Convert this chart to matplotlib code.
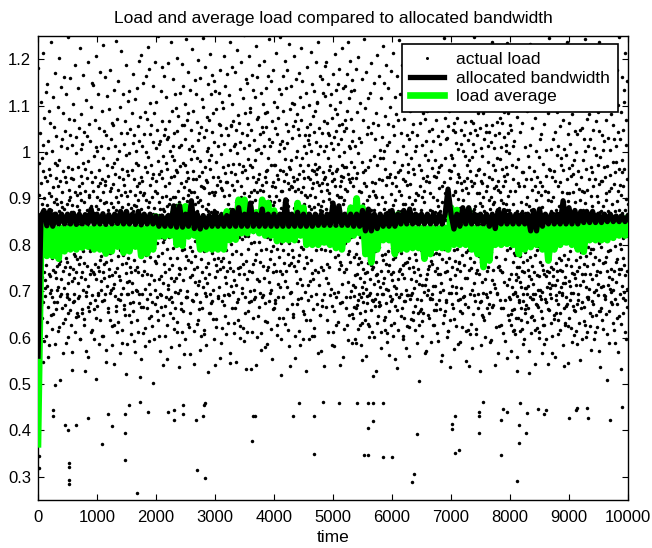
import numpy as np
import matplotlib
matplotlib.use("Agg")
import matplotlib.pyplot as plt
from matplotlib.lines import Line2D

plt.rcParams['font.family'] = ['Liberation Sans', 'DejaVu Sans']

# ---------------- data ----------------
# actual load, 3000 readings evenly spread over t = 0 ... 10000, in thousandths
load_span = 10000
load_milli = [
763, 1182, 845, 692, 907, 531, 824, 976, 718, 1041, 866, 623, 795, 934, 1107, 681, 852, 749, 988, 817,
642, 889, 731, 1016, 958, 804, 1214, 677, 866, 742, 593, 901, 838, 1073, 706, 783, 947, 862, 724, 1129,
997, 871, 604, 756, 829, 1146, 712, 938, 885, 667, 1024, 791, 846, 559, 963, 738, 1088, 809, 912, 697,
818, 733, 951, 1063, 648, 874, 792, 1237, 906, 771, 687, 843, 1002, 619, 925, 857, 746, 1118, 783, 868,
1054, 676, 892, 816, 742, 977, 587, 861, 1171, 728, 899, 806, 661, 943, 1035, 754, 827, 702, 889, 971,
709, 926, 1098, 834, 615, 758, 982, 873, 804, 1203, 689, 937, 765, 851, 508, 1012, 893, 727, 838, 1141,
881, 797, 663, 1027, 913, 744, 856, 1084, 632, 959, 818, 706, 1162, 877, 793, 946, 671, 1046, 824, 752,
1126, 854, 771, 936, 588, 829, 1009, 695, 887, 762, 1248, 843, 718, 967, 809, 654, 897, 1071, 736, 918,
684, 1037, 902, 812, 753, 1159, 867, 628, 943, 798, 871, 1016, 722, 569, 886, 964, 1103, 747, 831, 677,
942, 781, 858, 694, 1068, 729, 913, 846, 1187, 611, 776, 998, 863, 742, 1032, 818, 653, 907, 884, 769,
836, 718, 1139, 967, 803, 646, 874, 927, 758, 1052, 689, 843, 911, 1224, 774, 596, 862, 1006, 731, 948,
1081, 897, 662, 813, 742, 934, 1018, 786, 859, 703, 976, 1167, 828, 641, 893, 761, 1044, 917, 527, 852,
727, 963, 848, 1112, 689, 807, 572, 943, 876, 1034, 754, 826, 1193, 712, 981, 839, 667, 908, 793, 1061,
902, 658, 1024, 787, 873, 1256, 738, 819, 957, 611, 884, 746, 1097, 863, 799, 692, 936, 1148, 812, 741,
794, 1145, 916, 736, 598, 869, 992, 823, 1069, 681, 758, 947, 837, 1011, 726, 883, 643, 1207, 904, 856,
669, 841, 1003, 878, 1126, 752, 927, 696, 813, 961, 587, 1052, 744, 897, 829, 1173, 768, 934, 702, 819,
1013, 776, 723, 941, 852, 679, 1088, 803, 914, 1231, 741, 866, 604, 987, 817, 728, 1046, 891, 758, 937,
857, 929, 1161, 694, 807, 1037, 762, 548, 893, 838, 971, 712, 1121, 826, 663, 948, 789, 874, 1009, 732,
748, 1092, 864, 812, 639, 917, 783, 1176, 856, 703, 1028, 891, 767, 923, 584, 846, 1063, 734, 968, 881,
931, 707, 809, 1058, 977, 863, 715, 628, 1134, 798, 842, 689, 953, 1014, 741, 1239, 876, 817, 657, 902,
612, 984, 1071, 827, 749, 893, 1153, 776, 918, 684, 865, 1002, 733, 811, 947, 566, 1096, 859, 788, 724,
1042, 846, 693, 907, 1218, 758, 831, 964, 617, 882, 779, 1124, 941, 706, 853, 1017, 671, 796, 928, 837,
808, 1066, 914, 648, 872, 739, 994, 1187, 823, 761, 906, 587, 1041, 846, 719, 958, 887, 1109, 694, 772,
951, 722, 788, 1131, 863, 997, 674, 839, 752, 1049, 915, 806, 633, 1262, 879, 741, 824, 961, 1083, 698,
717, 873, 1019, 804, 1168, 657, 942, 886, 768, 593, 1037, 829, 908, 745, 1114, 862, 976, 702, 849, 1003,
884, 1138, 753, 926, 841, 701, 1057, 612, 897, 971, 819, 742, 1196, 868, 933, 674, 1024, 787, 516, 913,
1076, 799, 947, 667, 834, 1209, 878, 735, 1012, 862, 693, 938, 781, 1149, 824, 609, 907, 853, 1038, 766,
743, 912, 835, 1087, 705, 968, 581, 1163, 844, 779, 1001, 897, 663, 826, 956, 1072, 738, 881, 1227, 812,
989, 827, 1178, 716, 893, 642, 856, 1039, 773, 928, 849, 1106, 694, 971, 807, 735, 1059, 862, 626, 944,
824, 676, 903, 1021, 789, 867, 1142, 953, 724, 817, 598, 1084, 879, 766, 1193, 841, 917, 703, 1008, 856,
1108, 938, 761, 844, 1047, 687, 912, 803, 1251, 776, 859, 981, 638, 1017, 893, 727, 864, 952, 571, 829,
695, 1024, 877, 958, 732, 1131, 816, 667, 943, 1067, 783, 904, 841, 1184, 718, 992, 806, 649, 877, 1036,
873, 758, 1163, 812, 603, 926, 1049, 859, 741, 977, 1119, 688, 837, 906, 792, 1027, 554, 883, 963, 714,
1032, 867, 704, 1191, 889, 748, 934, 817, 1066, 652, 898, 772, 1003, 861, 1236, 729, 946, 834, 687, 1088,
756, 991, 843, 677, 1013, 902, 1157, 793, 869, 618, 948, 1041, 721, 857, 983, 809, 1124, 663, 902, 827,
962, 1094, 728, 886, 813, 1046, 634, 957, 1203, 771, 842, 915, 697, 1078, 866, 751, 583, 1011, 892, 738,
829, 703, 969, 1127, 747, 878, 1016, 826, 662, 934, 1189, 853, 789, 1058, 611, 901, 977, 724, 843, 1142,
1059, 882, 791, 924, 564, 1104, 836, 749, 973, 1027, 688, 862, 1243, 819, 938, 776, 1068, 701, 894, 956,
687, 944, 1083, 768, 907, 1172, 854, 623, 1006, 839, 918, 731, 1134, 796, 874, 653, 985, 1047, 827, 762,
913, 1012, 734, 861, 1221, 786, 942, 679, 826, 1089, 958, 543, 871, 747, 1003, 914, 1156, 808, 719, 887,
776, 858, 1126, 693, 941, 818, 1064, 904, 752, 629, 987, 873, 1198, 836, 714, 1026, 893, 661, 948, 802,
1041, 723, 897, 981, 836, 1159, 677, 812, 927, 1053, 769, 604, 883, 956, 1114, 741, 849, 1246, 708, 924,
862, 1097, 786, 607, 923, 845, 1032, 729, 968, 1183, 814, 696, 1048, 877, 752, 939, 583, 1076, 859, 1002,
718, 936, 1008, 873, 1147, 761, 888, 654, 912, 826, 1069, 982, 737, 1211, 846, 693, 963, 804, 1126, 871,
993, 817, 674, 1043, 782, 914, 1167, 858, 703, 946, 1084, 823, 641, 907, 1022, 769, 876, 1153, 731, 541,
845, 1132, 913, 756, 864, 622, 978, 1093, 807, 743, 929, 1257, 871, 689, 1014, 836, 772, 947, 1061, 798,
1127, 709, 851, 937, 1058, 804, 747, 1176, 923, 588, 869, 996, 766, 1037, 842, 918, 679, 1108, 827, 753,
772, 968, 1094, 823, 692, 1207, 906, 839, 1018, 731, 862, 647, 1143, 954, 789, 873, 1051, 718, 936, 812,
936, 821, 744, 1169, 887, 973, 631, 1036, 858, 764, 1122, 907, 833, 692, 1004, 1238, 751, 878, 567, 1059,
801, 1057, 957, 712, 834, 1103, 781, 929, 1184, 857, 698, 974, 816, 1066, 743, 609, 918, 863, 1012, 724,
1018, 876, 663, 952, 1172, 827, 714, 893, 1047, 786, 938, 1219, 852, 676, 997, 823, 1079, 751, 884, 639,
738, 1063, 887, 816, 975, 599, 1136, 864, 752, 1021, 903, 781, 1194, 838, 927, 706, 868, 1042, 812, 957,
969, 843, 1117, 758, 621, 911, 1008, 873, 1253, 737, 846, 962, 688, 1083, 819, 894, 766, 1157, 532, 882,
854, 726, 1036, 943, 867, 1149, 792, 657, 984, 1061, 818, 743, 906, 1206, 861, 1016, 701, 839, 972, 1094,
1086, 914, 803, 679, 1048, 856, 1167, 742, 893, 968, 613, 827, 1134, 872, 759, 947, 1025, 806, 684, 918,
703, 857, 983, 1119, 768, 897, 541, 1004, 864, 1229, 781, 936, 852, 1071, 726, 914, 1162, 646, 843, 1007,
941, 1076, 722, 864, 1188, 807, 952, 697, 833, 1039, 918, 762, 609, 997, 1128, 853, 789, 929, 1053, 874,
827, 688, 1043, 917, 754, 1103, 863, 1197, 728, 891, 1012, 839, 946, 674, 862, 1083, 579, 958, 791, 1138,
1054, 936, 817, 746, 962, 633, 1087, 894, 823, 1164, 752, 988, 871, 719, 1243, 906, 843, 1029, 697, 812,
769, 1013, 894, 1152, 702, 848, 971, 786, 1067, 927, 554, 863, 1021, 798, 936, 1176, 741, 886, 664, 973,
892, 758, 1107, 836, 973, 681, 924, 1051, 813, 743, 1214, 867, 906, 628, 1038, 792, 951, 1096, 847, 716,
1073, 941, 687, 1002, 858, 1136, 774, 897, 961, 1247, 708, 832, 1017, 743, 879, 596, 1124, 916, 804, 853,
736, 869, 1024, 917, 1163, 789, 642, 958, 1088, 826, 893, 1009, 761, 938, 1197, 851, 722, 984, 867, 1061,
953, 1138, 812, 743, 897, 1019, 866, 708, 1176, 934, 781, 617, 1046, 883, 968, 803, 1232, 757, 921, 539,
818, 697, 963, 1093, 761, 927, 1142, 853, 983, 672, 1031, 841, 924, 1106, 788, 862, 651, 1057, 946, 774,
1104, 879, 754, 938, 1206, 834, 917, 1067, 603, 862, 989, 743, 1158, 891, 826, 1003, 718, 941, 1081, 857,
766, 1049, 921, 808, 683, 1171, 887, 952, 779, 1036, 864, 1118, 727, 583, 972, 847, 1069, 913, 796, 1224,
987, 842, 1153, 713, 876, 958, 792, 1098, 924, 657, 1013, 866, 943, 1259, 751, 889, 1037, 822, 698, 908,
849, 1127, 774, 997, 823, 638, 1054, 904, 1183, 836, 761, 971, 1026, 868, 713, 947, 1102, 596, 883, 1018,
1036, 723, 908, 1061, 941, 852, 1216, 768, 877, 1003, 689, 923, 817, 1147, 962, 739, 856, 1077, 934, 662,
727, 958, 1043, 881, 1132, 604, 837, 974, 1089, 812, 903, 746, 1194, 867, 952, 1021, 788, 673, 936, 1106,
964, 1108, 856, 742, 996, 889, 1237, 713, 928, 1052, 834, 967, 648, 1013, 876, 1163, 803, 917, 752, 571,
883, 791, 1157, 934, 668, 1041, 872, 813, 957, 1128, 746, 894, 1067, 827, 942, 694, 1003, 1186, 863, 789,
1121, 946, 728, 1012, 877, 1194, 803, 932, 637, 1063, 918, 851, 759, 1147, 986, 824, 1042, 717, 898, 961,
753, 1036, 912, 863, 1101, 786, 969, 1254, 842, 704, 1019, 893, 1126, 668, 937, 803, 1074, 954, 829, 612,
1007, 874, 1169, 697, 941, 1033, 816, 582, 1092, 927, 864, 1211, 774, 958, 1046, 839, 688, 1133, 907, 853,
812, 1082, 963, 778, 1146, 857, 634, 1017, 902, 1179, 831, 747, 991, 1058, 869, 926, 762, 1108, 674, 948,
938, 756, 1027, 904, 836, 1224, 973, 716, 1061, 887, 559, 946, 1137, 813, 1001, 742, 897, 1046, 968, 827,
1068, 921, 803, 1143, 687, 967, 1052, 858, 747, 1168, 916, 834, 628, 1088, 953, 781, 1236, 872, 719, 1014,
786, 1117, 942, 649, 1009, 883, 1197, 764, 936, 1071, 816, 979, 1132, 701, 857, 1024, 943, 588, 1156, 868,
713, 868, 1046, 642, 927, 774, 1133, 689, 851, 968, 735, 597, 1012, 826, 709, 943, 1178, 781, 663, 892,
954, 671, 803, 1087, 736, 882, 618, 997, 759, 1204, 843, 694, 916, 771, 1031, 652, 869, 728, 1106, 817,
687, 1021, 764, 913, 583, 846, 1158, 709, 978, 632, 887, 1069, 748, 823, 957, 676, 1243, 798, 719, 934,
876, 739, 962, 658, 1094, 817, 704, 926, 1172, 783, 561, 897, 1038, 742, 853, 689, 968, 1116, 761, 629,
1053, 692, 837, 768, 906, 624, 1127, 851, 726, 983, 697, 1041, 818, 757, 1192, 874, 613, 936, 792, 681,
748, 917, 679, 1063, 823, 753, 991, 601, 874, 1148, 716, 862, 934, 668, 1027, 787, 907, 734, 529, 1084,
902, 763, 1208, 694, 847, 973, 738, 816, 647, 1059, 889, 721, 1163, 796, 941, 676, 854, 1004, 708, 837,
671, 986, 827, 744, 1117, 859, 612, 939, 778, 1032, 693, 904, 767, 1229, 846, 718, 988, 638, 877, 1149,
1002, 728, 893, 617, 963, 781, 1078, 704, 852, 929, 1187, 759, 674, 1016, 833, 591, 946, 871, 743, 1061,
786, 1139, 702, 874, 757, 1021, 658, 946, 823, 689, 1098, 812, 953, 736, 867, 1174, 627, 909, 793, 724,
934, 683, 817, 1056, 741, 886, 1213, 769, 632, 978, 854, 712, 1037, 896, 774, 947, 553, 1118, 807, 693,
707, 1081, 926, 786, 659, 1003, 842, 1163, 727, 873, 616, 956, 794, 1069, 688, 841, 917, 743, 1241, 862,
1126, 818, 748, 961, 873, 694, 1042, 782, 907, 1187, 663, 829, 971, 738, 604, 1013, 887, 756, 942, 679,
862, 729, 1072, 643, 938, 816, 761, 1151, 889, 703, 996, 837, 578, 1104, 764, 928, 692, 1036, 813, 974,
691, 957, 843, 1196, 771, 622, 903, 1027, 749, 861, 1089, 683, 932, 812, 1167, 727, 866, 988, 641, 804,
1043, 804, 696, 887, 1128, 753, 964, 637, 1061, 829, 742, 1218, 878, 707, 953, 819, 1002, 668, 896, 781,
768, 1014, 912, 721, 846, 589, 1174, 866, 794, 1037, 653, 907, 823, 748, 1092, 971, 716, 853, 1146, 628,
927, 657, 1063, 808, 734, 961, 1203, 682, 874, 788, 1016, 902, 714, 1257, 836, 603, 943, 779, 1084, 857,
653, 892, 776, 1138, 917, 846, 714, 993, 567, 1071, 803, 937, 1182, 726, 862, 1024, 691, 808, 948, 737,
1089, 748, 863, 702, 983, 1157, 821, 754, 936, 643, 1046, 874, 797, 911, 1213, 684, 832, 1003, 766, 591,
823, 966, 694, 1049, 758, 873, 627, 1186, 904, 781, 1023, 712, 863, 948, 659, 1107, 837, 744, 982, 871,
712, 1132, 847, 783, 946, 1068, 673, 896, 751, 1229, 818, 609, 957, 1034, 736, 884, 1163, 797, 682, 923,
968, 781, 1017, 662, 873, 736, 1098, 842, 973, 718, 549, 1153, 806, 927, 1046, 769, 893, 631, 1192, 854,
844, 703, 936, 1113, 791, 1246, 862, 657, 988, 817, 1074, 741, 912, 676, 1027, 853, 764, 1138, 918, 602,
1031, 872, 743, 921, 614, 1056, 789, 1171, 834, 697, 962, 1089, 771, 883, 638, 944, 1208, 726, 857, 993,
697, 958, 1168, 827, 881, 712, 986, 753, 1047, 908, 829, 663, 1123, 788, 971, 843, 576, 1062, 734, 916,
914, 1043, 766, 624, 1019, 857, 1183, 709, 936, 1074, 792, 868, 1221, 747, 681, 898, 1006, 829, 953, 761,
763, 827, 1091, 947, 683, 1162, 743, 879, 591, 1018, 934, 812, 1048, 706, 863, 1137, 778, 918, 652, 1002,
1112, 688, 896, 803, 1037, 756, 938, 1209, 817, 673, 992, 861, 728, 1064, 923, 614, 847, 1176, 784, 943,
851, 973, 728, 1153, 864, 617, 1026, 789, 912, 1092, 746, 869, 983, 538, 1131, 817, 693, 958, 1041, 772,
629, 1067, 937, 812, 751, 989, 1196, 846, 703, 927, 1063, 788, 873, 651, 1018, 934, 1248, 762, 878, 717,
1047, 796, 678, 1002, 883, 1114, 739, 951, 824, 607, 1177, 867, 746, 1036, 912, 803, 694, 1083, 857, 961,
776, 912, 1139, 738, 964, 843, 1052, 676, 891, 1219, 764, 583, 938, 1008, 827, 1146, 719, 884, 992, 648,
934, 1083, 821, 697, 1164, 904, 776, 1028, 638, 872, 953, 1097, 727, 861, 1206, 784, 917, 1043, 693, 829,
1059, 743, 867, 1212, 926, 664, 1013, 831, 978, 752, 1124, 897, 815, 672, 1043, 946, 591, 1167, 804, 878,
698, 1021, 903, 784, 1097, 861, 1238, 724, 942, 813, 667, 1058, 889, 971, 746, 1121, 839, 716, 1009, 923,
893, 816, 1174, 962, 707, 1036, 849, 623, 1101, 774, 927, 858, 1183, 693, 986, 833, 1064, 752, 918, 566,
1118, 937, 754, 879, 1042, 806, 1197, 913, 682, 984, 1073, 746, 861, 1229, 628, 897, 1011, 821, 742, 964,
742, 1063, 891, 1147, 803, 927, 664, 1032, 856, 1176, 719, 948, 1087, 812, 769, 937, 593, 1121, 887, 1002,
967, 828, 1016, 713, 1234, 876, 953, 789, 1083, 648, 906, 1041, 837, 1162, 726, 874, 998, 687, 1059, 812,
683, 794, 917, 628, 1047, 736, 862, 571, 973, 708, 821, 1139, 659, 887, 764, 941, 693, 1012, 782, 616,
853, 662, 1023, 779, 698, 916, 607, 838, 1184, 724, 643, 968, 801, 737, 1076, 689, 872, 753, 527, 934,
731, 984, 642, 867, 752, 1107, 681, 793, 926, 614, 848, 719, 1043, 776, 664, 893, 1219, 708, 826, 957,
618, 873, 744, 1062, 693, 812, 957, 678, 763, 1168, 839, 596, 927, 741, 868, 653, 1011, 784, 706, 889,
942, 707, 826, 671, 903, 634, 1089, 768, 857, 712, 992, 663, 817, 1153, 746, 884, 572, 968, 733, 804,
774, 1016, 688, 853, 1232, 727, 941, 609, 796, 876, 683, 1052, 754, 918, 647, 831, 1096, 716, 862, 695,
867, 639, 958, 741, 813, 1073, 694, 926, 778, 543, 1126, 807, 672, 897, 1003, 734, 859, 621, 947, 788,
702, 913, 798, 1147, 667, 847, 733, 989, 612, 871, 764, 1028, 703, 936, 821, 1194, 684, 792, 908, 657,
1038, 756, 643, 881, 927, 699, 1113, 818, 746, 974, 627, 864, 738, 1061, 792, 586, 917, 826, 683, 1152,
813, 677, 1004, 732, 596, 948, 863, 1179, 709, 837, 743, 913, 661, 1083, 778, 896, 718, 963, 1246, 742,
659, 962, 818, 707, 1092, 784, 873, 631, 1006, 752, 894, 686, 1167, 823, 713, 947, 604, 869, 1028, 747,
902, 733, 1136, 649, 861, 789, 958, 714, 559, 1043, 817, 937, 692, 876, 1208, 761, 653, 993, 838, 724,
744, 1087, 672, 926, 803, 1013, 637, 859, 771, 1162, 698, 883, 1057, 746, 617, 936, 812, 708, 971, 856,
986, 768, 851, 1221, 692, 914, 743, 1069, 826, 584, 962, 717, 838, 1114, 663, 893, 779, 1007, 731, 628,
718, 867, 632, 993, 1148, 756, 837, 688, 942, 804, 1236, 673, 911, 769, 1038, 847, 546, 894, 723, 966,
1063, 643, 912, 786, 711, 1017, 873, 1193, 754, 621, 948, 832, 697, 1082, 861, 739, 973, 806, 668, 914,
826, 952, 697, 1124, 864, 738, 606, 983, 817, 1046, 729, 893, 1173, 658, 841, 768, 1001, 714, 932, 587,
673, 1039, 809, 743, 958, 1217, 681, 867, 798, 1094, 632, 921, 752, 864, 1047, 713, 896, 1158, 774, 848,
947, 784, 1106, 663, 829, 917, 736, 1052, 597, 876, 1189, 806, 721, 983, 842, 667, 1027, 758, 913, 1243,
738, 891, 628, 1003, 776, 1134, 852, 709, 964, 687, 832, 1071, 754, 919, 613, 858, 1176, 796, 684, 1012,
1082, 817, 941, 704, 863, 652, 1029, 783, 1197, 736, 906, 847, 574, 968, 792, 1113, 726, 883, 647, 956,
791, 673, 1048, 927, 759, 866, 1142, 698, 837, 1008, 613, 941, 1226, 774, 859, 703, 993, 826, 1067, 734,
906, 1153, 744, 818, 623, 973, 851, 1086, 716, 893, 767, 1238, 658, 931, 804, 1046, 742, 871, 536, 989,
657, 938, 873, 1117, 796, 709, 1036, 842, 937, 638, 1172, 761, 883, 1004, 712, 824, 968, 691, 1109, 847,
1024, 762, 689, 946, 1203, 837, 774, 912, 651, 1068, 896, 743, 829, 1147, 969, 608, 873, 1031, 786, 714,
843, 1097, 916, 731, 862, 588, 1004, 788, 1163, 857, 704, 951, 819, 676, 1082, 923, 747, 1219, 861, 672,
726, 887, 1058, 814, 979, 703, 1131, 861, 744, 932, 1027, 616, 873, 797, 1193, 684, 957, 838, 1013, 763,
978, 719, 836, 1176, 643, 894, 769, 1043, 917, 826, 568, 1101, 748, 963, 876, 737, 1248, 802, 693, 928,
864, 1029, 747, 908, 1087, 792, 629, 956, 833, 1162, 711, 869, 982, 653, 1047, 814, 927, 771, 1134, 698,
1108, 756, 963, 682, 847, 1213, 876, 734, 1016, 597, 898, 827, 1069, 743, 941, 864, 704, 1152, 819, 887,
]

# further readings in the lower part of the cloud (0.5 ... 0.7), spread over t = 0 ... 10000
lower_milli = [
612, 671, 547, 689, 634, 583, 702, 651, 498, 676, 623, 694, 566, 641, 687, 602, 659, 531, 678, 645,
686, 597, 653, 628, 699, 558, 674, 617, 662, 511, 691, 639, 604, 682, 573, 656, 697, 626, 543, 668,
633, 681, 589, 661, 522, 695, 648, 607, 677, 569, 638, 693, 553, 666, 621, 684, 592, 647, 503, 672,
657, 603, 692, 541, 669, 627, 684, 579, 643, 698, 612, 537, 675, 658, 596, 688, 629, 564, 681, 614,
695, 637, 574, 663, 616, 689, 526, 652, 679, 598, 641, 685, 557, 621, 671, 608, 693, 545, 664, 631,
548, 683, 625, 697, 593, 654, 611, 676, 532, 642, 687, 601, 665, 574, 692, 636, 587, 679, 618, 661,
674, 606, 643, 519, 688, 629, 662, 581, 698, 645, 556, 673, 614, 686, 597, 651, 529, 682, 639, 603,
621, 694, 567, 649, 682, 538, 667, 613, 691, 584, 658, 627, 699, 542, 676, 619, 663, 595, 687, 651,
665, 589, 682, 627, 551, 696, 638, 674, 602, 659, 517, 684, 632, 669, 578, 693, 644, 609, 562, 678,
604, 668, 535, 687, 646, 598, 679, 624, 561, 692, 655, 617, 683, 506, 661, 635, 699, 571, 648, 686,
684, 627, 659, 592, 699, 563, 648, 681, 615, 537, 673, 641, 696, 586, 657, 622, 689, 549, 667, 608,
577, 692, 618, 663, 528, 679, 645, 601, 688, 653, 594, 671, 541, 697, 626, 664, 609, 682, 556, 639,
651, 614, 697, 558, 676, 639, 587, 662, 693, 523, 645, 684, 616, 671, 599, 689, 567, 628, 676, 543,
693, 566, 641, 682, 607, 654, 697, 539, 668, 626, 681, 591, 659, 614, 693, 552, 677, 636, 601, 688,
626, 678, 597, 649, 691, 572, 663, 618, 684, 508, 657, 699, 631, 589, 672, 646, 533, 685, 612, 667,
]

# isolated low-load readings (time, load)
low_load = [
(10, 0.345), (10, 0.318), (254, 0.445), (254, 0.432), (458, 0.412), (510, 0.401), (644, 0.412),
(530, 0.330), (530, 0.321), (530, 0.293), (530, 0.284), (850, 0.427), (1080, 0.371),
(1190, 0.436), (1250, 0.410), (1475, 0.436), (1475, 0.395), (1475, 0.336), (1545, 0.455),
(1680, 0.265), (1730, 0.462), (1870, 0.440), (2210, 0.440), (2305, 0.445), (2305, 0.423),
(2460, 0.455), (2460, 0.436), (2680, 0.423), (2690, 0.315), (2790, 0.432), (2820, 0.455),
(2835, 0.460), (2830, 0.297), (3625, 0.377), (3640, 0.430), (3680, 0.432), (4325, 0.430),
(4430, 0.458), (4680, 0.432), (4680, 0.349), (4835, 0.462), (5100, 0.458), (5410, 0.458),
(5590, 0.460), (5680, 0.460), (5850, 0.460), (5590, 0.406), (5680, 0.421), (5530, 0.347),
(5590, 0.347), (5850, 0.343), (6000, 0.343), (6420, 0.393), (6370, 0.306), (6340, 0.289),
(7020, 0.414), (7020, 0.403), (7070, 0.432), (7070, 0.351), (7140, 0.358), (7475, 0.440),
(7475, 0.430), (7475, 0.395), (7540, 0.462), (7850, 0.423), (7880, 0.447), (7950, 0.440),
(7850, 0.347), (8120, 0.291), (8150, 0.412), (8150, 0.373), (8170, 0.458), (8270, 0.395),
(8290, 0.438), (8475, 0.447), (8575, 0.436), (8610, 0.445), (9000, 0.427), (9120, 0.445),
(9140, 0.449), (9300, 0.449), (9320, 0.427), (9690, 0.423), (9900, 0.451),
]

# allocated bandwidth and load average, one value every 50 time units (t = 0 ... 10000)
line_step = 50
allocated_bw = [
0.560, 0.860, 0.874, 0.841, 0.874, 0.840, 0.866, 0.845, 0.866, 0.845,
0.866, 0.845, 0.868, 0.844, 0.866, 0.845, 0.865, 0.846, 0.877, 0.845,
0.866, 0.845, 0.867, 0.844, 0.865, 0.845, 0.866, 0.846, 0.872, 0.845,
0.872, 0.845, 0.866, 0.844, 0.872, 0.843, 0.866, 0.845, 0.866, 0.845,
0.862, 0.840, 0.862, 0.840, 0.862, 0.840, 0.884, 0.838, 0.884, 0.838,
0.866, 0.840, 0.895, 0.835, 0.866, 0.834, 0.863, 0.838, 0.863, 0.840,
0.870, 0.840, 0.863, 0.840, 0.863, 0.840, 0.874, 0.840, 0.880, 0.840,
0.866, 0.840, 0.890, 0.840, 0.866, 0.840, 0.877, 0.840, 0.866, 0.840,
0.866, 0.840, 0.866, 0.840, 0.897, 0.840, 0.866, 0.840, 0.870, 0.840,
0.866, 0.840, 0.866, 0.840, 0.866, 0.842, 0.866, 0.842, 0.866, 0.842,
0.890, 0.842, 0.884, 0.842, 0.866, 0.842, 0.866, 0.840, 0.866, 0.840,
0.874, 0.830, 0.877, 0.830, 0.866, 0.835, 0.866, 0.840, 0.866, 0.840,
0.874, 0.840, 0.866, 0.845, 0.874, 0.845, 0.877, 0.845, 0.866, 0.845,
0.866, 0.845, 0.866, 0.845, 0.866, 0.845, 0.866, 0.845, 0.866, 0.920,
0.866, 0.834, 0.866, 0.840, 0.880, 0.845, 0.880, 0.845, 0.866, 0.845,
0.866, 0.845, 0.866, 0.840, 0.866, 0.835, 0.874, 0.845, 0.874, 0.845,
0.866, 0.845, 0.866, 0.845, 0.866, 0.845, 0.866, 0.830, 0.874, 0.830,
0.877, 0.840, 0.866, 0.845, 0.866, 0.845, 0.866, 0.845, 0.895, 0.845,
0.880, 0.845, 0.874, 0.845, 0.872, 0.848, 0.872, 0.848, 0.872, 0.848,
0.866, 0.848, 0.866, 0.850, 0.866, 0.850, 0.862, 0.850, 0.862, 0.850,
0.862,
]
load_average = [
0.370, 0.790, 0.840, 0.776, 0.838, 0.776, 0.835, 0.770, 0.836, 0.786,
0.835, 0.790, 0.838, 0.790, 0.835, 0.794, 0.836, 0.796, 0.835, 0.790,
0.843, 0.790, 0.836, 0.781, 0.835, 0.786, 0.837, 0.796, 0.847, 0.783,
0.838, 0.786, 0.835, 0.796, 0.836, 0.776, 0.835, 0.781, 0.840, 0.790,
0.861, 0.818, 0.855, 0.818, 0.845, 0.820, 0.870, 0.800, 0.883, 0.798,
0.883, 0.818, 0.860, 0.820, 0.840, 0.790, 0.836, 0.790, 0.835, 0.790,
0.836, 0.790, 0.835, 0.790, 0.872, 0.810, 0.872, 0.811, 0.897, 0.825,
0.897, 0.825, 0.880, 0.830, 0.870, 0.825, 0.897, 0.820, 0.890, 0.820,
0.874, 0.808, 0.845, 0.810, 0.840, 0.810, 0.845, 0.810, 0.890, 0.820,
0.880, 0.800, 0.840, 0.800, 0.840, 0.800, 0.840, 0.805, 0.840, 0.800,
0.836, 0.793, 0.835, 0.790, 0.838, 0.811, 0.880, 0.820, 0.900, 0.825,
0.880, 0.780, 0.835, 0.762, 0.836, 0.790, 0.847, 0.810, 0.840, 0.810,
0.836, 0.780, 0.865, 0.790, 0.865, 0.790, 0.838, 0.793, 0.835, 0.793,
0.836, 0.770, 0.835, 0.780, 0.836, 0.793, 0.835, 0.793, 0.836, 0.790,
0.880, 0.800, 0.875, 0.800, 0.838, 0.800, 0.875, 0.790, 0.836, 0.780,
0.835, 0.752, 0.836, 0.766, 0.838, 0.800, 0.840, 0.800, 0.840, 0.802,
0.840, 0.800, 0.840, 0.780, 0.838, 0.790, 0.836, 0.795, 0.838, 0.800,
0.836, 0.790, 0.835, 0.766, 0.838, 0.790, 0.840, 0.800, 0.842, 0.805,
0.870, 0.800, 0.840, 0.790, 0.840, 0.785, 0.845, 0.810, 0.845, 0.810,
0.845, 0.810, 0.848, 0.810, 0.855, 0.815, 0.857, 0.820, 0.857, 0.820,
0.857,
]

x_ticks = [0, 1000, 2000, 3000, 4000, 5000, 6000, 7000, 8000, 9000, 10000]
y_ticks = [0.3, 0.4, 0.5, 0.6, 0.7, 0.8, 0.9, 1.0, 1.1, 1.2]
y_tick_labels = ['0.3', '0.4', '0.5', '0.6', '0.7', '0.8', '0.9', '1', '1.1', '1.2']
title = 'Load and average load compared to allocated bandwidth'
x_label = 'time'
legend_labels = ['actual load', 'allocated bandwidth', 'load average']

# ---------------- plot ----------------
fig = plt.figure(figsize=(6.52, 5.48), dpi=100)
ax = fig.add_axes([38 / 652, 48 / 548, 590 / 652, 464 / 548])

load_t = np.arange(len(load_milli)) * (load_span / len(load_milli))
load_v = np.array(load_milli) / 1000.0
lower_t = (np.arange(len(lower_milli)) + 0.5) * (load_span / len(lower_milli))
lower_v = np.array(lower_milli) / 1000.0
low_t = np.array([p[0] for p in low_load])
low_v = np.array([p[1] for p in low_load])
all_t = np.concatenate([load_t, lower_t, low_t])
all_v = np.concatenate([load_v, lower_v, low_v])

dot_style = dict(linestyle='none', marker='o', markersize=2.5,
                 markerfacecolor='black', markeredgewidth=0, color='black')
ax.plot(all_t, all_v, zorder=2, **dot_style)

tl = np.arange(len(load_average)) * line_step
green, = ax.plot(tl, load_average, color='#00ff00', linewidth=4.8, zorder=3)
tb = np.arange(len(allocated_bw)) * line_step
black, = ax.plot(tb, allocated_bw, color='black', linewidth=3.8, zorder=4)

ax.set_xlim(0, 10000)
ax.set_ylim(0.25, 1.25)
ax.set_xticks(x_ticks)
ax.set_xticklabels([str(v) for v in x_ticks])
ax.set_yticks(y_ticks)
ax.set_yticklabels(y_tick_labels)
ax.tick_params(direction='in', length=4, width=0.8, labelsize=12,
               top=True, right=True)
ax.tick_params(axis='x', pad=7)
ax.tick_params(axis='y', pad=5)
for s in ax.spines.values():
    s.set_linewidth(1.0)

ax.set_title(title, fontsize=12.5, pad=9)
ax.set_xlabel(x_label, fontsize=12.5, labelpad=4)

leg_dot = Line2D([], [], linestyle='none', marker='o', markersize=2.2,
                 markerfacecolor='black', markeredgewidth=0)
leg = ax.legend([leg_dot, black, green], legend_labels, loc='upper right',
                bbox_to_anchor=((618 - 38) / 590, (500 - 44) / 464),
                borderaxespad=0, fontsize=12.5, frameon=True, fancybox=False,
                handlelength=1.95, handletextpad=0.7, labelspacing=0.2,
                borderpad=0.45, framealpha=1)
leg.get_frame().set_edgecolor('black')
leg.get_frame().set_linewidth(1.2)
leg.set_zorder(10)

fig.savefig('out.png', dpi=100)
